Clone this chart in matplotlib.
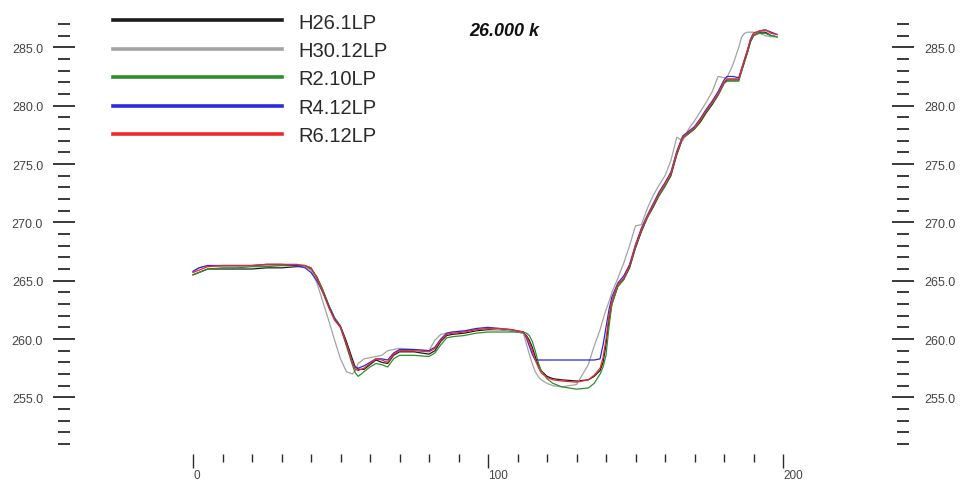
import matplotlib
matplotlib.use("Agg")
import matplotlib.pyplot as plt
from matplotlib.ticker import FixedLocator

plt.rcParams['font.family'] = ['Liberation Sans', 'DejaVu Sans']

# ---- data ----
x = [0, 2, 5, 10, 15, 20, 25, 30, 35, 38,
     40, 42, 44, 46, 48, 50, 52, 54, 55, 56,
     58, 60, 62, 64, 66, 68, 70, 75, 80, 82,
     84, 86, 88, 92, 96, 100, 104, 108, 112, 113,
     114, 115, 116, 117, 118, 120, 122, 125, 130, 134,
     136, 138, 139, 140, 141, 142, 144, 146, 148, 150,
     152, 154, 156, 158, 160, 162, 164, 166, 168, 170,
     172, 174, 176, 178, 180, 181, 183, 185, 186, 187,
     188, 189, 190, 192, 194, 196, 198]

h26_1 = [265.5, 265.7, 266.0, 266.0, 266.0, 266.0, 266.1, 266.1, 266.2, 266.2,
         266.0, 265.3, 264.2, 262.9, 261.8, 261.1, 259.8, 258.3, 257.6, 257.4,
         257.4, 257.8, 258.2, 258.0, 257.9, 258.6, 258.9, 258.9, 258.7, 259.0,
         259.8, 260.3, 260.4, 260.5, 260.7, 260.8, 260.8, 260.7, 260.5, 260.3,
         259.9, 259.3, 258.5, 257.8, 257.3, 256.8, 256.6, 256.5, 256.4, 256.5,
         256.8, 257.3, 258.0, 259.5, 261.6, 263.0, 264.5, 265.1, 266.1, 267.8,
         269.2, 270.4, 271.3, 272.3, 273.1, 274.0, 275.8, 277.2, 277.6, 278.0,
         278.6, 279.4, 280.1, 280.9, 281.9, 282.2, 282.2, 282.2, 283.0, 283.8,
         284.6, 285.5, 286.0, 286.3, 286.3, 286.0, 285.9]

h30_12 = [265.8, 266.1, 266.3, 266.2, 266.2, 266.3, 266.3, 266.3, 266.3, 266.2,
          265.9, 264.8, 263.2, 261.6, 259.9, 258.3, 257.2, 257.0, 257.3, 257.9,
          258.3, 258.4, 258.5, 258.6, 259.0, 259.1, 259.2, 259.1, 259.0, 259.9,
          260.4, 260.5, 260.6, 260.7, 260.8, 260.9, 260.8, 260.7, 260.5, 259.6,
          258.7, 257.9, 257.2, 256.8, 256.5, 256.2, 256.0, 255.9, 256.1, 257.8,
          259.4, 260.8, 261.7, 262.5, 263.2, 264.0, 265.2, 266.5, 268.0, 269.7,
          269.8, 271.2, 272.3, 273.2, 274.0, 275.3, 277.3, 277.0, 278.0, 278.7,
          279.5, 280.3, 281.2, 282.5, 282.4, 282.4, 283.5, 285.0, 285.9, 286.2,
          286.3, 286.3, 286.3, 286.2, 286.0, 285.9, 285.9]

r2_10 = [265.5, 265.7, 266.0, 266.1, 266.1, 266.2, 266.2, 266.3, 266.3, 266.3,
         266.1, 265.3, 264.2, 262.9, 261.8, 261.0, 259.4, 257.8, 257.1, 256.8,
         257.2, 257.6, 257.9, 257.8, 257.6, 258.3, 258.6, 258.6, 258.5, 258.8,
         259.5, 260.1, 260.2, 260.3, 260.5, 260.6, 260.6, 260.6, 260.6, 260.5,
         260.3, 259.8, 259.0, 258.0, 257.3, 256.6, 256.2, 255.9, 255.7, 255.8,
         256.2, 257.0, 257.6, 258.6, 261.0, 263.0, 264.5, 265.1, 266.2, 267.9,
         269.3, 270.4, 271.4, 272.3, 273.1, 274.1, 275.9, 277.2, 277.6, 278.0,
         278.7, 279.5, 280.2, 280.9, 281.9, 282.1, 282.1, 282.1, 283.0, 283.8,
         284.6, 285.5, 286.0, 286.2, 286.2, 286.0, 285.9]

r4_12 = [265.8, 266.1, 266.3, 266.3, 266.3, 266.3, 266.4, 266.4, 266.3, 266.1,
         265.7, 265.0, 264.0, 262.8, 261.7, 261.0, 259.6, 258.0, 257.6, 257.5,
         257.7, 258.0, 258.3, 258.3, 258.2, 258.8, 259.1, 259.1, 259.0, 259.3,
         260.0, 260.5, 260.6, 260.7, 260.9, 261.0, 260.9, 260.8, 260.6, 260.1,
         259.4, 258.7, 258.2, 258.2, 258.2, 258.2, 258.2, 258.2, 258.2, 258.2,
         258.2, 258.3, 259.5, 261.0, 262.5, 263.6, 264.8, 265.4, 266.4, 268.1,
         269.5, 270.6, 271.6, 272.6, 273.4, 274.3, 276.1, 277.4, 277.8, 278.2,
         278.9, 279.7, 280.4, 281.2, 282.2, 282.5, 282.5, 282.4, 283.2, 284.0,
         284.8, 285.7, 286.2, 286.4, 286.5, 286.3, 286.1]

r6_12 = [265.7, 265.9, 266.2, 266.3, 266.3, 266.3, 266.4, 266.4, 266.4, 266.3,
         266.1, 265.2, 264.0, 262.7, 261.6, 261.0, 259.6, 258.0, 257.4, 257.3,
         257.5, 257.9, 258.3, 258.2, 258.0, 258.7, 259.0, 259.0, 258.9, 259.2,
         259.9, 260.4, 260.5, 260.6, 260.8, 260.9, 260.9, 260.8, 260.6, 260.2,
         259.7, 259.0, 258.2, 257.6, 257.1, 256.7, 256.5, 256.4, 256.3, 256.5,
         256.9, 257.5, 258.4, 260.0, 262.0, 263.3, 264.7, 265.2, 266.3, 268.0,
         269.4, 270.5, 271.5, 272.5, 273.3, 274.2, 276.0, 277.3, 277.7, 278.1,
         278.8, 279.6, 280.3, 281.0, 282.0, 282.3, 282.3, 282.3, 283.2, 284.0,
         284.8, 285.7, 286.2, 286.4, 286.5, 286.2, 286.1]

labels = ["H26.1LP", "H30.12LP", "R2.10LP", "R4.12LP", "R6.12LP"]
series = [h26_1, h30_12, r2_10, r4_12, r6_12]
colors = ["#1c1c1c", "#a3a3a3", "#2f8f2f", "#2a2ae0", "#ec2a2a"]

title = "26.000 k"
y_major = [255, 260, 265, 270, 275, 280, 285]
y_minor = [v for v in range(251, 288) if v % 5 != 0]
x_major = [0, 100, 200]
x_minor = [v for v in range(10, 200, 10) if v % 100 != 0]

# ---- figure ----
W, H = 960, 481
fig = plt.figure(figsize=(W / 100, H / 100), dpi=100)
L, R, B, T = 64, 903, 455, 10
ax = fig.add_axes([L / W, 1 - B / H, (R - L) / W, (B - T) / H])
ax.set_xlim((L - 193) / 2.95, (R - 193) / 2.95)
ax.set_ylim(265 + (281.67 - B) / 11.667, 265 + (281.67 - T) / 11.667)

for s, c, lab in zip(series, colors, labels):
    ax.plot(x, s, color=c, lw=0.9, label=lab)

for sp in ax.spines.values():
    sp.set_visible(False)

tick_col = "#2a2a2a"
lab_col = "#444444"
ax.yaxis.set_major_locator(FixedLocator(y_major))
ax.yaxis.set_minor_locator(FixedLocator(y_minor))
ax.set_yticklabels([f"{v:.1f}" for v in y_major])
ax.xaxis.set_major_locator(FixedLocator(x_major))
ax.xaxis.set_minor_locator(FixedLocator(x_minor))
ax.set_xticklabels([str(v) for v in x_major])

ax.tick_params(axis='y', which='major', direction='inout', length=16, width=1.3,
               color=tick_col, left=True, right=True, labelleft=True,
               labelright=True, labelsize=9, labelcolor=lab_col, pad=7)
ax.tick_params(axis='y', which='minor', direction='inout', length=8.5, width=1.3,
               color=tick_col, left=True, right=True)
ax.tick_params(axis='x', which='major', direction='out', length=10, width=1.0,
               color=tick_col, labelsize=8.5, labelcolor=lab_col, pad=0.5)
ax.tick_params(axis='x', which='minor', direction='out', length=6, width=1.0,
               color=tick_col)
plt.setp(ax.get_xticklabels(), ha='left')

leg = ax.legend(loc='upper left', bbox_to_anchor=(113 / W, 1 - 13.5 / H),
                bbox_transform=fig.transFigure, frameon=False, fontsize=14.5,
                handlelength=8.4, handletextpad=0.82, labelspacing=0.47,
                borderpad=0, borderaxespad=0, labelcolor="#2a2a2a")
for ln in leg.get_lines():
    ln.set_linewidth(2.6)

fig.text(469 / W, 1 - 32 / H, title, fontsize=13, fontweight='bold',
         fontstyle='italic', ha='left', va='center', color='#111111')

fig.savefig("out.png", dpi=100)
